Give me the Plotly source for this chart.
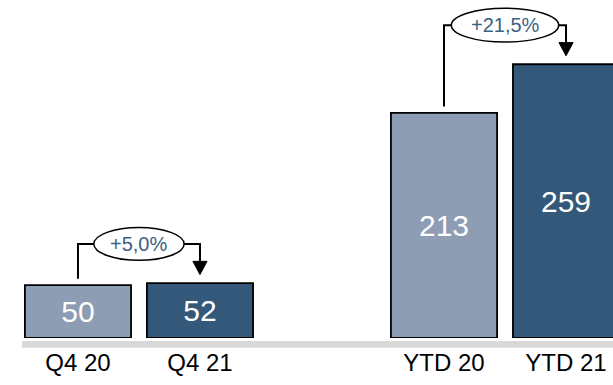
import plotly.graph_objects as go

# Periods and values
categories = ["Q4 20", "Q4 21", "YTD 20", "YTD 21"]
positions = [0, 1, 3, 4]
values = [50, 52, 213, 259]
growth_labels = ["+5,0%", "+21,5%"]

LIGHT = "#8C9DB4"
DARK = "#33587A"
TEXT_BLUE = "#3B5F86"
FONT = "Liberation Sans, Arial, sans-serif"

fig = go.Figure()
fig.add_trace(go.Bar(
    x=positions,
    y=values,
    width=0.87,
    marker=dict(color=[LIGHT, DARK, LIGHT, DARK],
                line=dict(color="black", width=1.8)),
    text=[str(v) for v in values],
    textposition="inside",
    insidetextanchor="middle",
    textangle=0,
    textfont=dict(color="white", size=30, family=FONT),
    cliponaxis=True,
    hoverinfo="skip",
))

shapes = []
annotations = []

# Growth brackets: from the earlier bar up, across, and down to the later bar
pairs = [(0, 1, growth_labels[0], 0.74, 31), (2, 3, growth_labels[1], 0.88, 32)]
for i_from, i_to, label, ell_w, ell_h in pairs:
    x0, x1 = positions[i_from], positions[i_to]
    v0, v1 = values[i_from], values[i_to]
    top = max(v0, v1) + 37
    start = v0 + 6
    tip = v1 + 8
    head = 12.5
    half = 0.058
    mid = (x0 + x1) / 2
    shapes.append(dict(
        type="path", xref="x", yref="y",
        path=f"M {x0},{start} L {x0},{top} L {x1},{top} L {x1},{tip + head}",
        line=dict(color="black", width=2), layer="above"))
    shapes.append(dict(
        type="path", xref="x", yref="y",
        path=f"M {x1 - half},{tip + head} L {x1 + half},{tip + head} L {x1},{tip} Z",
        fillcolor="black", line=dict(color="black", width=1), layer="above"))
    shapes.append(dict(
        type="circle", xref="x", yref="y",
        x0=mid - ell_w / 2, x1=mid + ell_w / 2,
        y0=top - ell_h / 2, y1=top + ell_h / 2,
        fillcolor="white", line=dict(color="black", width=1.5), layer="above"))
    annotations.append(dict(
        x=mid, y=top, xref="x", yref="y", text=label, showarrow=False,
        font=dict(color=TEXT_BLUE, size=20, family=FONT)))

# Grey baseline band under the bars
shapes.append(dict(
    type="rect", xref="paper", yref="paper",
    x0=22 / 613, x1=1.0, y0=-0.0285, y1=-0.009,
    fillcolor="#D9D9D9", line=dict(width=0), layer="above"))

fig.update_layout(
    width=613, height=385,
    margin=dict(l=0, r=0, t=0, b=47),
    plot_bgcolor="white", paper_bgcolor="white",
    showlegend=False,
    shapes=shapes,
    annotations=annotations,
    xaxis=dict(range=[-0.639, 4.385], tickvals=positions, ticktext=categories,
               showgrid=False, zeroline=False, showline=False, ticks="",
               tickfont=dict(size=24, color="black", family=FONT),
               ticklabelstandoff=8),
    yaxis=dict(range=[0, 319.8], visible=False, showgrid=False, zeroline=False),
)

fig.write_html("out.html")
